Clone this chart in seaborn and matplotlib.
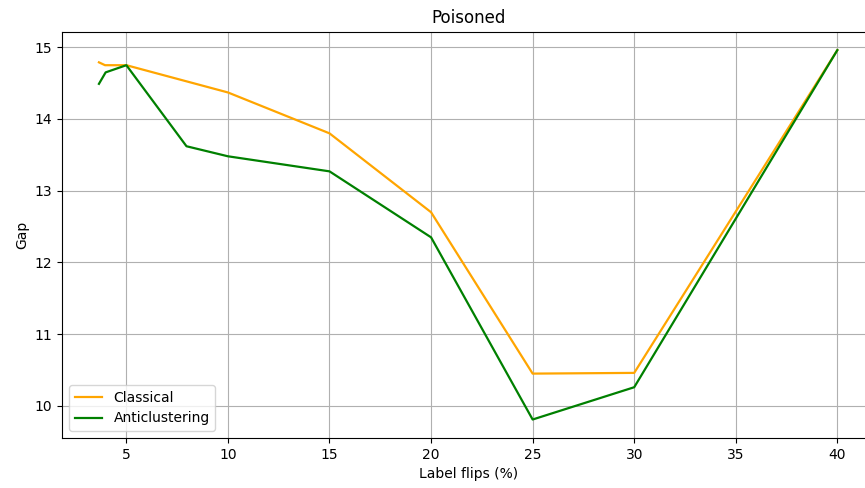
import matplotlib
matplotlib.use("Agg")
import matplotlib.pyplot as plt
import seaborn as sns
import pandas as pd

classical_x = [3.65, 3.95, 5, 10, 15, 20, 25, 30, 40]
classical_y = [14.79, 14.75, 14.75, 14.37, 13.80, 12.70, 10.45, 10.46, 14.96]
anti_x = [3.65, 3.98, 5, 7.96, 10, 15, 20, 25, 30, 40]
anti_y = [14.49, 14.65, 14.75, 13.62, 13.48, 13.27, 12.35, 9.81, 10.26, 14.96]

df = pd.concat([
    pd.DataFrame({"x": classical_x, "y": classical_y, "series": "Classical"}),
    pd.DataFrame({"x": anti_x, "y": anti_y, "series": "Anticlustering"}),
])

fig = plt.figure(figsize=(8.65, 4.88), dpi=100)
ax = fig.add_axes([0.0717, 0.1025, 0.939, 0.8326])
sns.lineplot(data=df, x="x", y="y", hue="series", sort=False,
             palette={"Classical": "orange", "Anticlustering": "green"},
             linewidth=1.6, ax=ax)
ax.grid(True, color="#b0b0b0", linewidth=0.8)
ax.set_axisbelow(True)
ax.spines["right"].set_visible(False)
ax.set_xticks([5, 10, 15, 20, 25, 30, 35, 40])
ax.set_yticks([10, 11, 12, 13, 14, 15])
ax.set_xlabel("Label flips (%)")
ax.set_ylabel("Gap")
ax.set_title("Poisoned")
leg = ax.legend(loc="lower left")
leg.set_title(None)
fig.savefig("out.png", dpi=100)
